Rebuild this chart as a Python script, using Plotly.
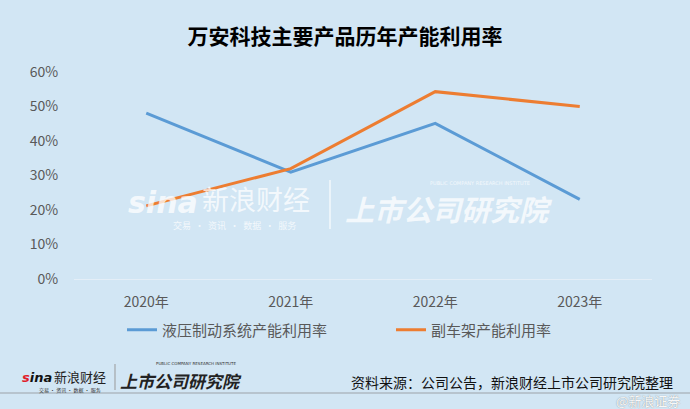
import plotly.graph_objects as go

years = ["2020年", "2021年", "2022年", "2023年"]
hydraulic = [48.1, 31.0, 45.1, 23.1]
subframe = [21.2, 32.0, 54.3, 50.0]
series_names = ["液压制动系统产能利用率", "副车架产能利用率"]
y_ticks = [0, 10, 20, 30, 40, 50, 60]
y_tick_text = [f"{v}%" for v in y_ticks]

BG = "#d2e6f4"
FONT = "Noto Sans CJK SC"

fig = go.Figure()
fig.add_trace(go.Scatter(x=years, y=hydraulic, name=series_names[0], mode="lines",
                         line=dict(color="#5b9bd5", width=3)))
fig.add_trace(go.Scatter(x=years, y=subframe, name=series_names[1], mode="lines",
                         line=dict(color="#ed7d31", width=3)))

L, R, T, B = 74, 38, 72, 130
W, H = 690, 409
PW, PH = W - L - R, H - T - B

fig.update_layout(
    width=W, height=H,
    paper_bgcolor=BG, plot_bgcolor=BG,
    margin=dict(l=L, r=R, t=T, b=B),
    font=dict(family=FONT, color="#595959", size=14),
    title=dict(text="<b>万安科技主要产品历年产能利用率</b>", x=0.5, xref="container",
               y=1 - 37 / H, yref="container", yanchor="middle", xanchor="center",
               font=dict(family=FONT, size=21, color="#000000")),
    xaxis=dict(type="category", range=[-0.5, 3.5], showgrid=False, zeroline=False,
               showline=True, linecolor="#e4eef7", linewidth=1,
               ticks="outside", ticklen=10, tickcolor="rgba(0,0,0,0)",
               tickfont=dict(size=14, color="#595959")),
    yaxis=dict(range=[0, 60], tickmode="array", tickvals=y_ticks, ticktext=y_tick_text,
               showgrid=False, zeroline=False, showline=False,
               ticks="outside", ticklen=12, tickcolor="rgba(0,0,0,0)",
               tickfont=dict(size=14, color="#595959")),
    showlegend=True,
    legend=dict(orientation="h", x=(122 - L) / PW, xanchor="left",
                y=(H - B - 330) / PH, yanchor="middle",
                bgcolor="rgba(0,0,0,0)", font=dict(size=15, color="#595959"),
                entrywidthmode="pixels", entrywidth=224, itemwidth=30),
)

def pxx(x):
    return (x - L) / PW
def pyy(y):
    return (H - B - y) / PH

ann = []
wm = "rgba(255,255,255,0.75)"
# central watermark
ann.append(dict(text="<b><i>sina</i></b>", x=163, y=202, font=dict(size=30, color=wm, family="DejaVu Sans")))
ann.append(dict(text="新浪财经", x=256, y=198, font=dict(size=27, color=wm, family=FONT)))
ann.append(dict(text="交易  ·  资讯  ·  数据  ·  服务", x=234, y=225, font=dict(size=9, color=wm, family=FONT)))
ann.append(dict(text="<b><i>上市公司研究院</i></b>", x=449, y=208, font=dict(size=29, color=wm, family=FONT)))
ann.append(dict(text="PUBLIC COMPANY RESEARCH INSTITUTE", x=480, y=183, font=dict(size=5, color=wm, family="DejaVu Sans")))

# footer logos
ann.append(dict(text="<b><i><span style='color:#e0202a'>s</span>ina</i></b>", x=37, y=377, font=dict(size=13, color="#111111", family="DejaVu Sans")))
ann.append(dict(text="新浪财经", x=80, y=376, font=dict(size=13, color="#222222", family=FONT)))
ann.append(dict(text="交易 · 资讯 · 数据 · 服务", x=70, y=390, font=dict(size=5, color="#333333", family=FONT)))
ann.append(dict(text="<b><i>上市公司研究院</i></b>", x=181, y=380, font=dict(size=17, color="#222222", family=FONT)))
ann.append(dict(text="PUBLIC COMPANY RESEARCH INSTITUTE", x=196, y=363, font=dict(size=4, color="#333333", family="DejaVu Sans")))
# source
ann.append(dict(text="资料来源：公司公告，新浪财经上市公司研究院整理", x=675, y=382, xanchor="right",
                font=dict(size=14, color="#111111", family=FONT)))
# weibo watermark
ann.append(dict(text="@新浪证券", x=682, y=400, xanchor="right",
                font=dict(size=13, color="rgba(255,255,255,0.95)", family=FONT, shadow="0px 0px 1px #777")))

for a in ann:
    a.setdefault("xanchor", "center")
    a.update(xref="paper", yref="paper", showarrow=False, yanchor="middle")
    a["x"] = pxx(a["x"])
    a["y"] = pyy(a["y"])

fig.update_layout(annotations=ann)

fig.update_layout(shapes=[
    dict(type="line", xref="paper", yref="paper", x0=pxx(0), x1=pxx(W),
         y0=pyy(393), y1=pyy(393), line=dict(color="#aeb9c2", width=1.5)),
    dict(type="line", xref="paper", yref="paper", x0=pxx(115), x1=pxx(115),
         y0=pyy(364), y1=pyy(390), line=dict(color="#999999", width=1)),
    dict(type="line", xref="paper", yref="paper", x0=pxx(330), x1=pxx(330),
         y0=pyy(180), y1=pyy(229), line=dict(color="rgba(255,255,255,0.75)", width=1.5),
         layer="below"),
])

fig.write_html("out.html", config={"displayModeBar": False},
               post_script="document.body.style.margin='0';document.body.style.overflow='hidden';")
